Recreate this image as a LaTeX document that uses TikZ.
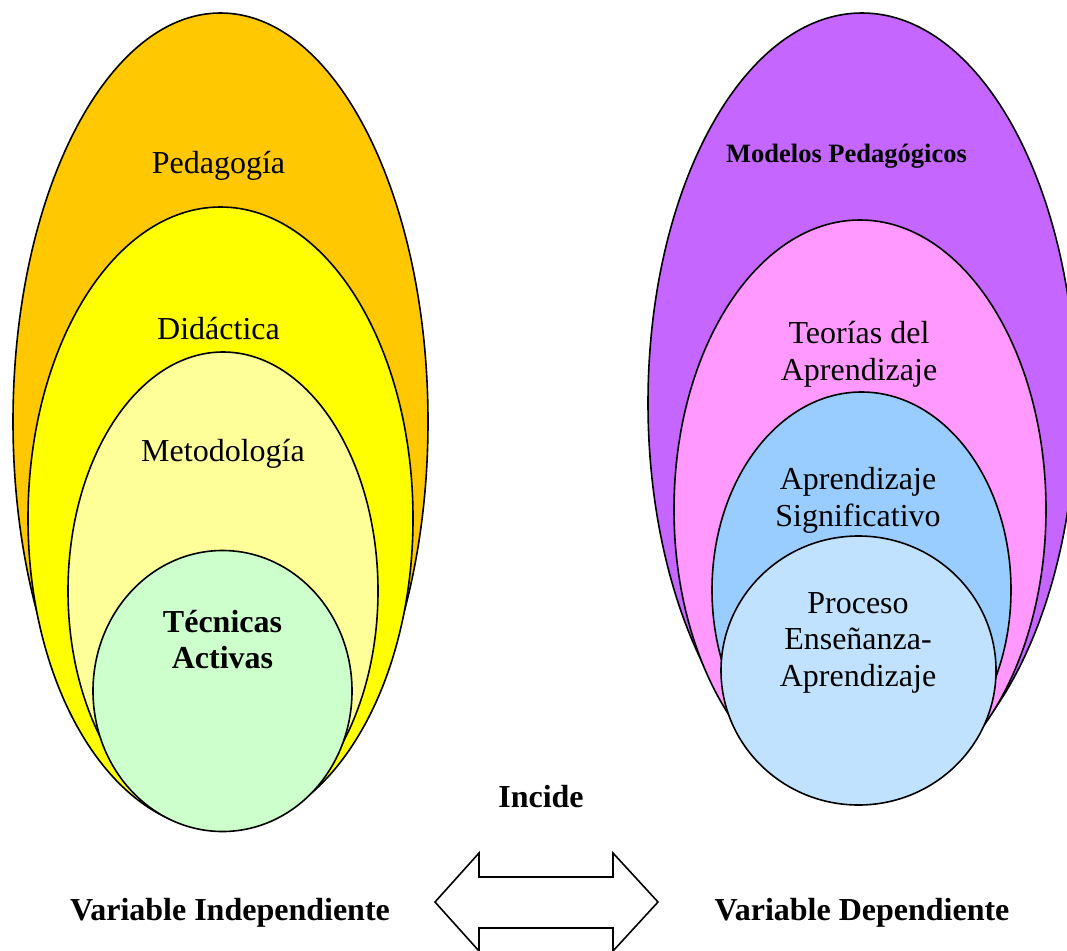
\documentclass[tikz,border=0pt]{standalone}
\usepackage{fontspec}
\setmainfont{Liberation Serif}
\usetikzlibrary{shapes.geometric}
\definecolor{cOrange}{HTML}{FFC800}
\definecolor{cYellow}{HTML}{FFFF00}
\definecolor{cLYellow}{HTML}{FFFF99}
\definecolor{cGreen}{HTML}{CCFFCC}
\definecolor{cPurple}{HTML}{C466FF}
\definecolor{cPink}{HTML}{FF99FF}
\definecolor{cBlue}{HTML}{99CCFF}
\definecolor{cLBlue}{HTML}{C0E2FF}
\tikzset{
  ell/.style={ellipse, draw=black, line width=1.6pt, inner sep=0pt, outer sep=0pt},
  lbl/.style={anchor=base, inner sep=0pt, font=\fontsize{32}{37}\selectfont},
  blbl/.style={lbl, font=\fontsize{32}{37}\selectfont\bfseries},
}
\begin{document}
\begin{tikzpicture}[x=1pt,y=-1pt]
\useasboundingbox (0,0) rectangle (1067,950);
\clip (0,0) rectangle (1067,950);
% left set
\node[ell, fill=cOrange, minimum width=415pt, minimum height=817pt] (pedE) at (220.5,421.5) {};
\node[ell, fill=cYellow, minimum width=385pt, minimum height=623pt] (didE) at (220.5,518.5) {};
\node[ell, fill=cLYellow, minimum width=310pt, minimum height=478pt] (metE) at (223,591) {};
\node[ell, fill=cGreen, minimum width=259pt, minimum height=281pt] (tecE) at (222.5,691) {};
% right set
\node[ell, fill=cPurple, minimum width=428pt, minimum height=780pt] (modE) at (862,403) {};
\node[ell, fill=cPink, minimum width=372pt, minimum height=579pt] (teoE) at (860,509.5) {};
\node[ell, fill=cBlue, minimum width=299pt, minimum height=396pt] (apsE) at (861.5,590) {};
\node[ell, fill=cLBlue, minimum width=275pt, minimum height=269pt] (proE) at (858.5,670.5) {};
% labels left
\node[lbl] (tPed) at (218.5,173) {Pedagogía};
\node[lbl] (tDid) at (218.5,339) {Didáctica};
\node[lbl] (tMet) at (223,461) {Metodología};
\node[blbl] (tTec1) at (222.5,632) {Técnicas};
\node[blbl] (tTec2) at (222.5,668) {Activas};
% labels right
\node[lbl, font=\fontsize{26.5}{30}\selectfont\bfseries] (tMod) at (846.5,162) {Modelos Pedagógicos};
\node[lbl] (tTeo1) at (859,343) {Teorías del};
\node[lbl] (tTeo2) at (859,380) {Aprendizaje};
\node[lbl] (tAps1) at (858,489) {Aprendizaje};
\node[lbl] (tAps2) at (858,526) {Significativo};
\node[lbl] (tPro1) at (858,613) {Proceso};
\node[lbl] (tPro2) at (858,649) {Enseñanza-};
\node[lbl] (tPro3) at (858,686) {Aprendizaje};
% bottom
\node[blbl] (tInc) at (541,807) {Incide};
\node[blbl] (tVI) at (230,920) {Variable Independiente};
\node[blbl] (tVD) at (862,920) {Variable Dependiente};
\draw[line width=1.6pt, fill=white, line join=miter]
  (435,902) -- (479,853) -- (479,877) -- (613,877) -- (613,853) -- (658,902)
  -- (613,951) -- (613,928) -- (479,928) -- (479,951) -- cycle;
\end{tikzpicture}
\end{document}
